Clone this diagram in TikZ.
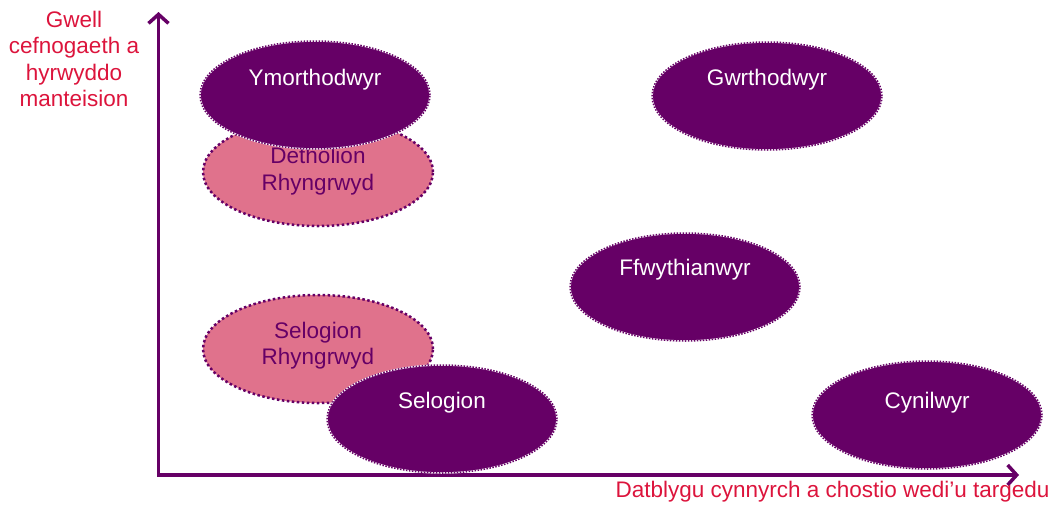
\documentclass[tikz,border=0pt]{standalone}
\usepackage{fontspec}
\setmainfont{Liberation Sans}
\usetikzlibrary{positioning,shapes.geometric,arrows.meta}

\definecolor{plum}{RGB}{102,0,102}
\definecolor{rose}{RGB}{224,114,140}
\definecolor{crimson}{RGB}{220,20,60}

\begin{document}
\begin{tikzpicture}[x=1pt, y=-1pt,
                    darkblob/.style={ellipse, fill=plum, draw=white, line width=1.5pt, minimum width=230pt, minimum height=108pt, inner sep=0pt,
                                     postaction={draw=plum, line width=1.5pt, dash pattern=on 1.5pt off 1.5pt}},
                    pinkblob/.style={ellipse, fill=rose, draw=plum, line width=2.5pt, dash pattern=on 2.5pt off 2.5pt, minimum width=230pt, minimum height=108pt, inner sep=0pt},
                    darktext/.style={text=white, align=center, font=\fontsize{22.5}{26.5}\selectfont},
                    pinktext/.style={text=plum, align=center, font=\fontsize{22.5}{26.5}\selectfont},
                    axislabel/.style={text=crimson, align=center, font=\fontsize{22.5}{26.5}\selectfont},
                    axis/.style={draw=plum, line width=3.5pt, {Straight Barb[length=9pt,width=20pt]}-{Straight Barb[length=9pt,width=20pt]}},
                ]
                    \useasboundingbox (0,0) rectangle (1054,504);

                    %Axes
                    \coordinate (origin) at (158.5,475);
                    \coordinate (ytip) at (158.5,12);
                    \coordinate (xtip) at (1019,475);
                    \draw[axis](ytip) -- (origin) -- (xtip);
                    \node[axislabel](ylabel) at (74,59) {Gwell\\cefnogaeth a\\hyrwyddo\\manteision};
                    \node[axislabel, anchor=base west](xlabel) at (612,497) {Datblygu cynnyrch a chostio wedi’u targedu};

                    %Nodes
                    \node[pinkblob](detholion) at (318,172) {};
                    \node[pinktext](detholiontxt) at ([yshift=1pt]detholion.center) {Detholion\\Rhyngrwyd};
                    \node[darkblob](ymorth) at (315,95) {};
                    \node[darktext](ymorthtxt) at ([yshift=15pt]ymorth.center) {Ymorthodwyr};
                    \node[darkblob](gwrth) at (767,96) {};
                    \node[darktext](gwrthtxt) at ([yshift=16pt]gwrth.center) {Gwrthodwyr};
                    \node[darkblob](ffwyth) at (685,287) {};
                    \node[darktext](ffwythtxt) at ([yshift=17pt]ffwyth.center) {Ffwythianwyr};
                    \node[pinkblob](selrhyn) at (318,349) {};
                    \node[pinktext](selrhyntxt) at ([yshift=3.5pt]selrhyn.center) {Selogion\\Rhyngrwyd};
                    \node[darkblob](selogion) at (442,419) {};
                    \node[darktext](selogiontxt) at ([yshift=16pt]selogion.center) {Selogion};
                    \node[darkblob](cynil) at (927,415) {};
                    \node[darktext](cyniltxt) at ([yshift=12pt]cynil.center) {Cynilwyr};
                \end{tikzpicture}
\end{document}
